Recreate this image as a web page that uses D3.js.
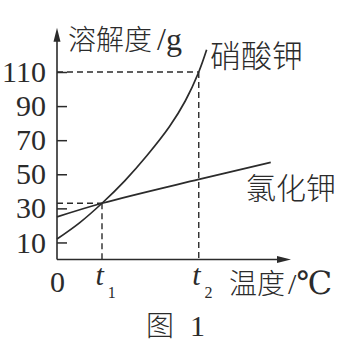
<!DOCTYPE html>
<html>
<head>
<meta charset="utf-8">
<script src="https://cdn.jsdelivr.net/npm/d3@7"></script>
<style>
  html, body { margin: 0; padding: 0; background: #fff; }
  svg { display: block; }
  .cjk { font-family: "Noto Sans CJK SC", sans-serif; font-weight: 300; fill: #2b2b2b; }
  .num { font-family: "Liberation Serif", "DejaVu Serif", serif; fill: #2b2b2b; }
</style>
</head>
<body>
<svg id="chart" width="347" height="347"></svg>
<script>
// temperatures are in arbitrary units: t1 = 20, t2 = 63
const t1 = 20, t2 = 63;

// KNO3 (硝酸钾) solubility curve
const kno3Temp = [0, 10, 20, 30, 40, 50, 57, 63, 66.5];
const kno3Val = [12, 21.5, 33, 46, 61, 78, 93, 110, 123];

// KCl (氯化钾) solubility line
const kclTemp = [0, 20, 63, 95];
const kclVal = [25, 33, 47, 57];

const yTicks = [10, 30, 50, 70, 90, 110];
const xTicks = [0, t1, t2];
const xTickNames = ["0", "t", "t"];
const xTickSubs = ["", "1", "2"];

// end of the arrows, in data units
const xAxisMax = 104;
const yAxisMax = 136;

const svg = d3.select('#chart');
const ink = '#2b2b2b';

const x = d3.scaleLinear().domain([0, 100]).range([57, 282]);
const y = d3.scaleLinear().domain([0, 110]).range([259.5, 72]);

// dashed guides
const guides = [
    [[0, 110], [t2, 110]],
    [[t2, 110], [t2, 0]],
    [[0, 33], [t1, 33]],
    [[t1, 33], [t1, 0]]
];
svg.append('g')
    .selectAll('line')
    .data(guides)
    .enter()
    .append('line')
    .attr('x1', d => x(d[0][0]))
    .attr('y1', d => y(d[0][1]))
    .attr('x2', d => x(d[1][0]))
    .attr('y2', d => y(d[1][1]))
    .attr('stroke', ink)
    .attr('stroke-width', 1.4)
    .attr('stroke-dasharray', '6,4');

// curves
const line = d3.line()
    .x(d => x(d[0]))
    .y(d => y(d[1]))
    .curve(d3.curveCatmullRom);

svg.append('path')
    .datum(d3.zip(kno3Temp, kno3Val))
    .attr('d', line)
    .attr('fill', 'none')
    .attr('stroke', ink)
    .attr('stroke-width', 1.7);

svg.append('path')
    .datum(d3.zip(kclTemp, kclVal))
    .attr('d', line)
    .attr('fill', 'none')
    .attr('stroke', ink)
    .attr('stroke-width', 1.7);

// y axis with ticks pointing inward
const yAxis = d3.axisLeft(y)
    .tickValues(yTicks)
    .tickSizeInner(-10)
    .tickSizeOuter(0)
    .tickPadding(11);

svg.append('g')
    .attr('transform', `translate(${x(0)},0)`)
    .call(yAxis)
    .call(g => g.select('.domain').remove())
    .call(g => g.selectAll('.tick line').attr('stroke', ink).attr('stroke-width', 1.5))
    .call(g => g.selectAll('.tick text')
        .attr('class', 'num')
        .attr('font-size', 30)
        .attr('font-family', null));

// x axis labels (0, t1, t2)
const xAxis = d3.axisBottom(x)
    .tickValues(xTicks)
    .tickSize(0)
    .tickPadding(11)
    .tickFormat((d, i) => xTickNames[i]);

svg.append('g')
    .attr('transform', `translate(0,${y(0)})`)
    .call(xAxis)
    .call(g => g.select('.domain').remove())
    .selectAll('.tick text')
    .attr('class', 'num')
    .attr('font-size', 30)
    .attr('font-family', null)
    .each(function (d, i) {
        if (!xTickSubs[i]) return;
        const t = d3.select(this);
        t.text(null)
            .attr('text-anchor', 'start')
            .attr('x', -7)
            .attr('y', 4);
        t.append('tspan').attr('font-style', 'italic').text(xTickNames[i]);
        t.append('tspan').attr('font-size', 16).attr('dx', 4).attr('dy', 13).text(xTickSubs[i]);
    });

// axis lines with arrows
const x0 = x(0), y0 = y(0);
const xEnd = x(xAxisMax), yEnd = y(yAxisMax);
svg.append('line')
    .attr('x1', x0).attr('y1', y0).attr('x2', xEnd - 6).attr('y2', y0)
    .attr('stroke', ink).attr('stroke-width', 1.6);
svg.append('line')
    .attr('x1', x0).attr('y1', y0).attr('x2', x0).attr('y2', yEnd + 6)
    .attr('stroke', ink).attr('stroke-width', 1.6);
svg.append('path')
    .attr('d', `M${xEnd},${y0} L${xEnd - 14},${y0 - 3.5} L${xEnd - 14},${y0 + 3.5} Z`)
    .attr('fill', ink);
svg.append('path')
    .attr('d', `M${x0},${yEnd} L${x0 - 3.5},${yEnd + 14} L${x0 + 3.5},${yEnd + 14} Z`)
    .attr('fill', ink);

// titles and curve names
const yTitle = svg.append('text').attr('x', 68).attr('y', 50).attr('font-size', 28);
yTitle.append('tspan').attr('class', 'cjk').text('溶解度');
yTitle.append('tspan').attr('class', 'num').attr('font-size', 32).attr('dx', 5).text('/g');

svg.append('text').attr('class', 'cjk')
    .attr('x', 210).attr('y', 67).attr('font-size', 31)
    .text('硝酸钾');

svg.append('text').attr('class', 'cjk')
    .attr('x', 246).attr('y', 199).attr('font-size', 30)
    .text('氯化钾');

const xTitle = svg.append('text').attr('x', 229).attr('y', 294).attr('font-size', 28);
xTitle.append('tspan').attr('class', 'cjk').text('温度');
xTitle.append('tspan').attr('class', 'num').attr('font-size', 30).attr('dx', 3).text('/');
xTitle.append('tspan').attr('class', 'num').attr('font-size', 32).text('℃');

const caption = svg.append('text').attr('x', 146).attr('y', 336).attr('font-size', 28);
caption.append('tspan').attr('class', 'cjk').text('图');
caption.append('tspan').attr('class', 'num').attr('font-size', 30).attr('dx', 16).text('1');
</script>
</body>
</html>
